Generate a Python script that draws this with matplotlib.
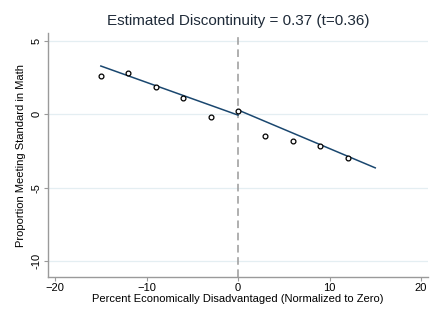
import numpy as np
import matplotlib.pyplot as plt

plt.rcParams['font.family'] = ['Liberation Sans', 'DejaVu Sans']

# binned means
bin_x = [-15, -12, -9, -6, -3, 0, 3, 6, 9, 12]
bin_y = [2.6, 2.85, 1.85, 1.1, -0.15, 0.25, -1.45, -1.85, -2.15, -3.0]

# fitted lines on each side of the cutoff
left_x = [-15, 0]
left_y = [3.3, -0.05]
right_x = [0, 15]
right_y = [0.3, -3.65]

x_ticks = [-20, -10, 0, 10, 20]
y_ticks = [-10, -5, 0, 5]

title = 'Estimated Discontinuity = 0.37 (t=0.36)'
navy = '#1a476f'
gray = '#9a9a9a'

fig = plt.figure(figsize=(4.33, 3.24), dpi=100)
ax = fig.add_axes([0.111, 0.145, 0.8775, 0.753])

for yt in y_ticks:
    ax.axhline(yt, color='#e4eef2', lw=0.9, zorder=0)
ax.axvline(0, color=gray, lw=1.1, ls=(0, (5, 3)), zorder=1)

ax.plot(left_x, left_y, color=navy, lw=1.1, zorder=2)
ax.plot(right_x, right_y, color=navy, lw=1.1, zorder=2)
ax.scatter(bin_x, bin_y, s=12, facecolors='white', edgecolors='black', linewidths=0.9, zorder=3)

ax.set_xlim(-20.77, 20.77)
ax.set_ylim(-11.1, 5.55)
ax.set_xticks(x_ticks)
ax.set_yticks(y_ticks)
ax.set_yticklabels([str(v) for v in y_ticks], rotation=90, va='center')

for side in ['top', 'right']:
    ax.spines[side].set_visible(False)
for side in ['left', 'bottom']:
    ax.spines[side].set_color(gray)
    ax.spines[side].set_linewidth(1.0)
ax.tick_params(colors='black', labelsize=8, length=3, width=0.8, pad=1.5)
ax.tick_params(axis='both', color=gray)

ax.set_xlabel('Percent Economically Disadvantaged (Normalized to Zero)', fontsize=8, labelpad=0.5)
ax.set_ylabel('Proportion Meeting Standard in Math', fontsize=8, labelpad=4)
ax.set_title(title, fontsize=11, color='#1e2a38', pad=6)

fig.savefig('out.png', dpi=100)
